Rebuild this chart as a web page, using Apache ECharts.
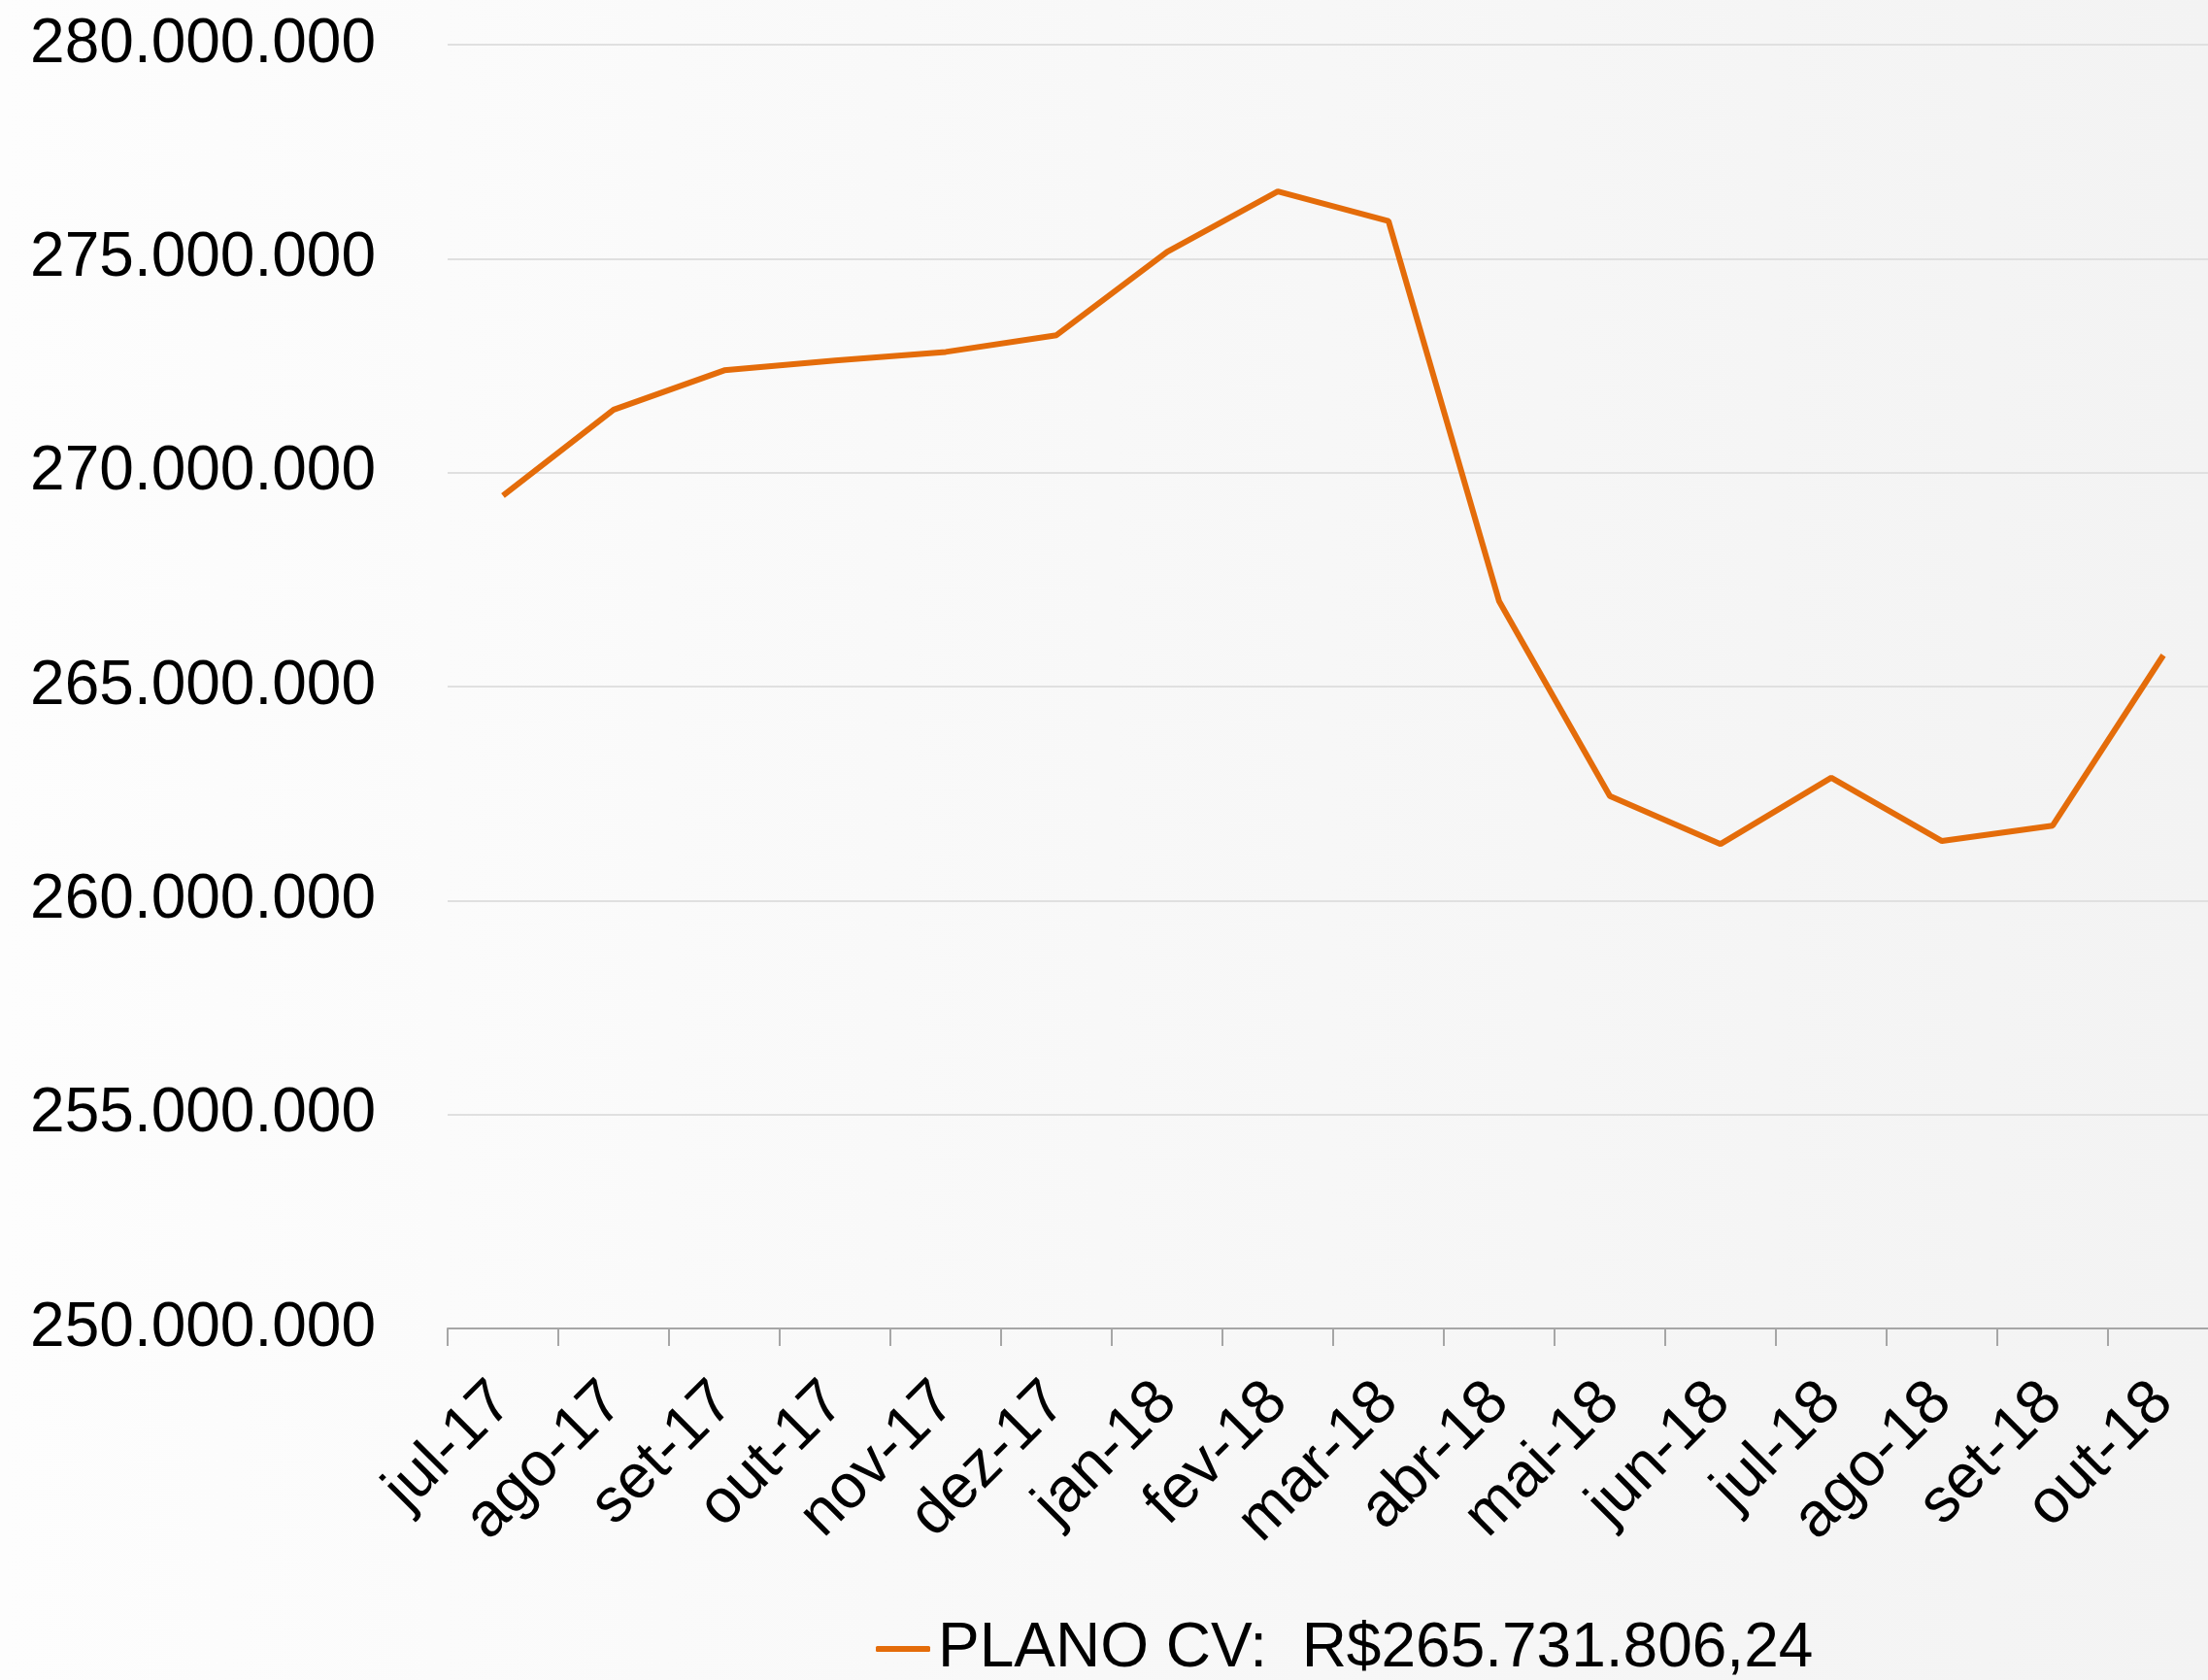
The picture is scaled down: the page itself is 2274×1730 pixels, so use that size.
<!DOCTYPE html>
<html lang="pt">
<head>
    <meta charset="UTF-8">
    <title>PLANO CV</title>
    <script src="https://cdn.jsdelivr.net/npm/echarts@6/dist/echarts.min.js"></script>
    <style>
        html, body { margin: 0; padding: 0; }
        #chart { width: 2274px; height: 1730px; }
    </style>
</head>
<body>
<div id="chart"></div>
<script type="text/javascript">
    // meses
    var meses = ['jul-17', 'ago-17', 'set-17', 'out-17', 'nov-17', 'dez-17', 'jan-18', 'fev-18',
        'mar-18', 'abr-18', 'mai-18', 'jun-18', 'jul-18', 'ago-18', 'set-18', 'out-18'];
    // valores do plano (R$)
    var valores = [269460000, 271470000, 272390000, 272620000, 272820000, 273210000, 275160000, 276570000,
        275880000, 266990000, 262440000, 261320000, 262870000, 261390000, 261750000, 265731806.24];
    var serieNome = 'PLANO CV:  R$265.731.806,24';
    var yMin = 250000000, yMax = 280000000, yPasso = 5000000;

    function fmtMilhar(v) {
        return String(Math.round(v)).replace(/\B(?=(\d{3})+(?!\d))/g, '.');
    }

    var chart = echarts.init(document.getElementById('chart'));
    var option = {
        animation: false,
        backgroundColor: {
            type: 'linear', x: 0, y: 0, x2: 1, y2: 0,
            colorStops: [{offset: 0, color: '#fdfdfd'}, {offset: 1, color: '#f3f3f3'}]
        },
        textStyle: { fontFamily: 'Liberation Sans, Arial, sans-serif' },
        legend: {
            data: [serieNome],
            left: 897,
            top: 1661,
            icon: 'roundRect',
            itemWidth: 56,
            itemHeight: 6,
            itemGap: 9,
            textStyle: { fontSize: 64, color: '#000', fontFamily: 'Liberation Sans', padding: [0, 0, 0, 3] }
        },
        grid: {
            left: 461,
            width: 1824,
            top: 46,
            height: 1322,
            containLabel: false,
            outerBoundsMode: 'none'
        },
        xAxis: {
            type: 'category',
            data: meses,
            boundaryGap: true,
            axisLine: { lineStyle: { color: '#a6a6a6', width: 2 } },
            axisTick: { show: true, length: 18, lineStyle: { color: '#a6a6a6', width: 2 } },
            axisLabel: {
                rotate: 45,
                interval: 0,
                margin: 66,
                fontSize: 64,
                color: '#000',
                fontFamily: 'Liberation Sans'
            }
        },
        yAxis: {
            type: 'value',
            min: yMin,
            max: yMax,
            interval: yPasso,
            axisLine: { show: false },
            axisTick: { show: false },
            splitLine: { lineStyle: { color: '#e0e0e0', width: 2 } },
            axisLabel: {
                margin: 74,
                fontSize: 64,
                color: '#000',
                fontFamily: 'Liberation Sans',
                formatter: fmtMilhar
            }
        },
        series: [{
            name: serieNome,
            type: 'line',
            data: valores,
            symbol: 'none',
            itemStyle: { color: '#E46C0A' },
            lineStyle: { color: '#E46C0A', width: 6 }
        }]
    };
    chart.setOption(option);
</script>
</body>
</html>
